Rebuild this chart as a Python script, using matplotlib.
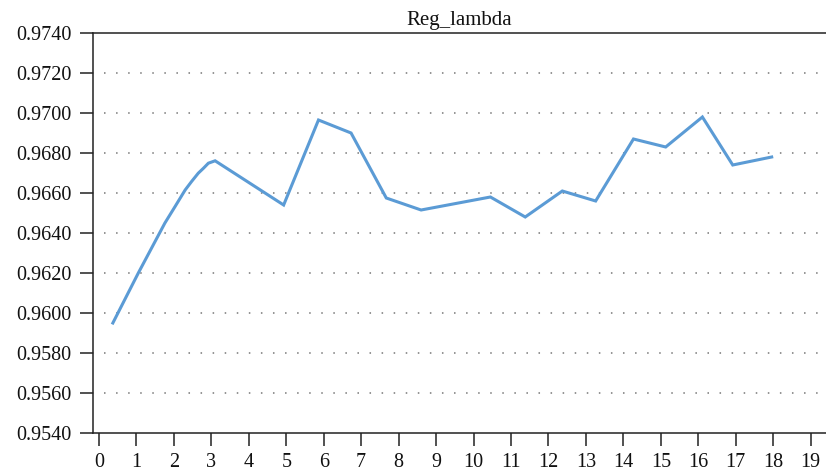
import matplotlib
matplotlib.use("Agg")
import matplotlib.pyplot as plt
from matplotlib.ticker import FormatStrFormatter, MultipleLocator

plt.rcParams['font.family'] = ['Liberation Serif', 'DejaVu Serif']

title = "Reg_lambda"
x_vals = [0.37, 1.05, 1.76, 2.03, 2.30, 2.47, 2.65, 2.79, 2.92, 3.10, 4.93, 5.86,
          6.73, 7.67, 8.60, 10.45, 11.38, 12.37, 13.26, 14.27, 15.13, 16.11, 16.92, 17.96]
y_vals = [0.9595, 0.9620, 0.9645, 0.96532, 0.96615, 0.96657, 0.96699, 0.96724,
          0.96749, 0.96761, 0.9654, 0.96965, 0.9690, 0.96575, 0.96515, 0.9658,
          0.9648, 0.9661, 0.9656, 0.9687, 0.9683, 0.9698, 0.9674, 0.9678]
x_ticks = list(range(0, 20))
y_min, y_max, y_step = 0.9540, 0.9740, 0.0020
grid_levels = [0.9560, 0.9580, 0.9600, 0.9620, 0.9640, 0.9660, 0.9680, 0.9700, 0.9720]

W, H = 826, 476
fig = plt.figure(figsize=(W / 100, H / 100), dpi=100)
ax = fig.add_axes([93 / W, 1 - 433 / H, (826 - 93) / W, (433 - 33) / H])

ax.plot(x_vals, y_vals, color='#5B9BD5', linewidth=2.2, solid_joinstyle='miter')

ax.set_xlim(-0.16, 19.41)
ax.set_ylim(y_min, y_max)
ax.set_xticks(x_ticks)
ax.yaxis.set_major_locator(MultipleLocator(y_step))
ax.yaxis.set_major_formatter(FormatStrFormatter('%.4f'))

ax.spines['right'].set_visible(False)
for s in ['left', 'bottom', 'top']:
    ax.spines[s].set_linewidth(1.1)
    ax.spines[s].set_color('#222222')

ax.tick_params(axis='both', direction='out', length=9.5, width=1.1, color='#222222',
               labelsize=14.5, labelcolor='#111111')
ax.tick_params(axis='y', pad=6)
ax.tick_params(axis='x', pad=5)

for yv in grid_levels:
    ax.axhline(yv, color='#777777', linewidth=1.1, linestyle=(0.7, (1.0, 6.9)), zorder=0)

ax.set_title(title, fontsize=15, pad=6, color='#111111')

fig.savefig("out.png", dpi=100)
